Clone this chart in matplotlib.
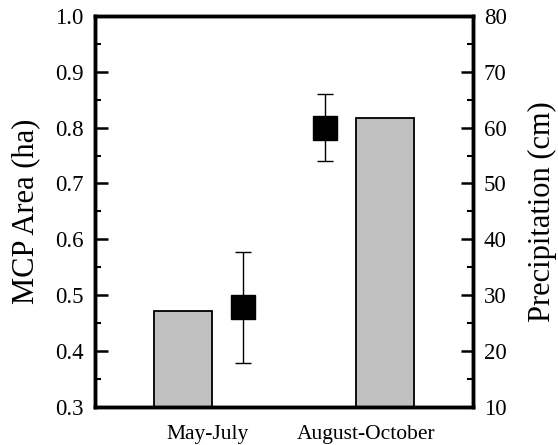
import matplotlib
matplotlib.use("Agg")
import matplotlib.pyplot as plt
from matplotlib.ticker import MultipleLocator, FormatStrFormatter

plt.rcParams['font.family'] = ['Liberation Serif', 'DejaVu Serif']

categories = ["May-July", "August-October"]
mcp_area = [0.478, 0.80]
mcp_err = [0.10, 0.06]
precip = [27.1, 61.8]

fig = plt.figure(figsize=(5.58, 4.45), dpi=100)
ax = fig.add_axes([0.1703, 0.0861, 0.8470 - 0.1703, 0.964 - 0.0861])
ax2 = ax.twinx()

# layout positions (fractions of axis width)
label_pos = [0.299, 0.719]
bar_pos = [0.233, 0.7675]
marker_pos = [0.393, 0.610]
bar_w = 0.152

ax2.bar(bar_pos, precip, width=bar_w, bottom=0, color="#c0c0c0",
        edgecolor="black", linewidth=1.3, zorder=2)
ax2.set_ylim(10, 80)

ax.errorbar(marker_pos, mcp_area, yerr=mcp_err, fmt="s", color="black",
            markersize=17, ecolor="black", elinewidth=1.0, capsize=6,
            capthick=1.0, zorder=3)
ax.set_ylim(0.3, 1.0)
ax.set_xlim(0, 1)
ax.set_zorder(ax2.get_zorder() + 1)
ax.patch.set_visible(False)

ax.yaxis.set_major_locator(MultipleLocator(0.1))
ax.yaxis.set_minor_locator(MultipleLocator(0.05))
ax2.yaxis.set_major_locator(MultipleLocator(10))
ax2.yaxis.set_minor_locator(MultipleLocator(5))

ax.set_xticks(label_pos)
ax.set_xticklabels(categories, fontsize=15.5)
ax.tick_params(axis='x', length=0, pad=13)

for a in (ax, ax2):
    a.tick_params(axis='y', which='major', direction='in', length=9, width=1.8,
                  labelsize=16.5, pad=8)
    a.tick_params(axis='y', which='minor', direction='in', length=4.5, width=1.5)
    for s in a.spines.values():
        s.set_linewidth(2.5)

ax.yaxis.set_major_formatter(FormatStrFormatter('%.1f'))
ax.set_ylabel("MCP Area (ha)", fontsize=22, labelpad=11)
ax2.set_ylabel("Precipitation (cm)", fontsize=22, labelpad=15)

fig.savefig("out.png", dpi=100)
